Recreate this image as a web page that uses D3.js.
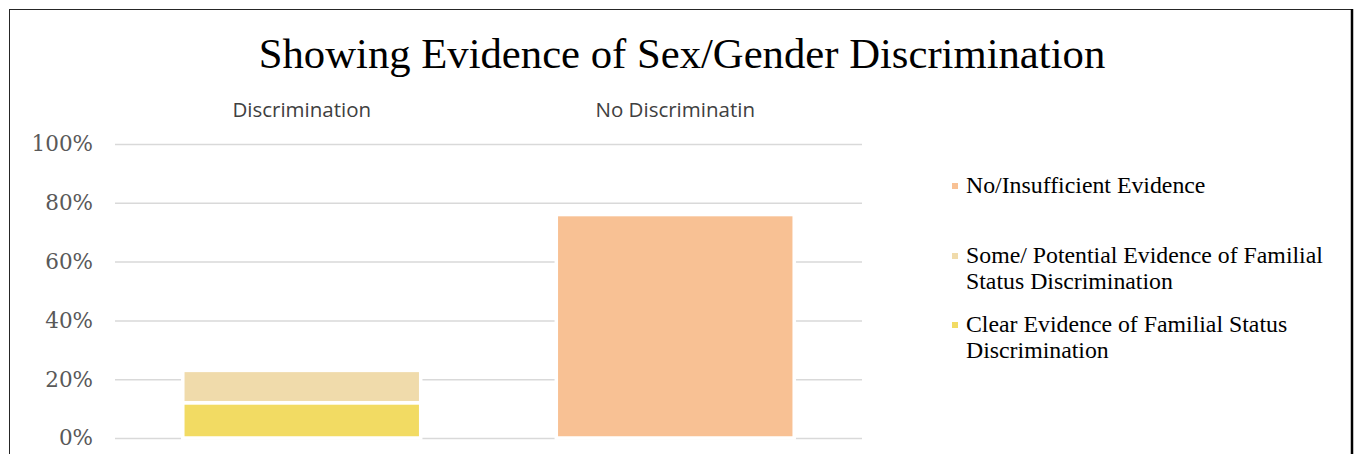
<!DOCTYPE html>
<html lang="en">

<head>
    <meta charset="UTF-8">
    <title>Showing Evidence of Sex/Gender Discrimination</title>
    <style>
        body { margin: 0; background: #fff; }
        .axis path { display: none; }
        .axis line { stroke: #d9d9d9; stroke-width: 1.5; }
        .axis text { font: 21.5px "DejaVu Serif", serif; fill: #595959; }
    </style>
</head>

<body>
    <div id="graph"></div>

    <script src="https://cdnjs.cloudflare.com/ajax/libs/d3/7.0.0/d3.min.js"></script>

    <script>
        // data
        var categories = ["Discrimination", "No Discriminatin"];
        var seriesNames = [
            "Clear Evidence of Familial Status Discrimination",
            "Some/ Potential Evidence of Familial Status Discrimination",
            "No/Insufficient Evidence"
        ];
        var clearEvidence = [0.12, 0];
        var someEvidence = [0.11, 0];
        var noEvidence = [0, 0.76];
        var yTicks = [0, 0.2, 0.4, 0.6, 0.8, 1.0];

        // legend is listed top-down in reverse stack order, with wrapped lines
        var legendLines = [
            ["No/Insufficient Evidence"],
            ["Some/ Potential Evidence of Familial", "Status Discrimination"],
            ["Clear Evidence of Familial Status", "Discrimination"]
        ];
        var colors = ["#f2db63", "#f0dbab", "#f8c194"];

        var W = 1354, H = 454;
        var margin = { top: 144, left: 115, right: W - 862, bottom: H - 438 };
        var width = W - margin.left - margin.right,
            height = H - margin.top - margin.bottom;

        var root = d3.select("#graph").append("svg")
            .attr("width", W)
            .attr("height", H);

        // chart frame
        root.append("rect")
            .attr("x", 9.5).attr("y", 9.5)
            .attr("width", 1342).attr("height", 500)
            .attr("fill", "none")
            .attr("stroke", "#262626")
            .attr("stroke-width", 1);
        root.append("line")
            .attr("x1", 1352).attr("x2", 1352)
            .attr("y1", 9).attr("y2", H)
            .attr("stroke", "#000").attr("stroke-width", 2.5);

        root.append("text")
            .attr("x", 682).attr("y", 68)
            .attr("text-anchor", "middle")
            .style("font", "42.7px 'Liberation Serif', 'Times New Roman', serif")
            .attr("fill", "#000")
            .text("Showing Evidence of Sex/Gender Discrimination");

        var svg = root.append("g")
            .attr("transform", "translate(" + margin.left + "," + margin.top + ")");

        var x = d3.scaleBand().domain(categories).range([0, width])
            .paddingInner(0.363).paddingOuter(0.1815);
        var y = d3.scaleLinear().domain([0, 1]).range([height, 0]);

        var yAxis = d3.axisLeft(y)
            .tickValues(yTicks)
            .tickSize(-width)
            .tickPadding(22)
            .tickFormat(d3.format(".0%"));

        svg.append("g")
            .attr("class", "axis")
            .call(yAxis);

        // category labels along the top
        svg.selectAll(".cat")
            .data(categories)
            .enter().append("text")
            .attr("class", "cat")
            .attr("x", d => x(d) + x.bandwidth() / 2)
            .attr("y", -27)
            .attr("text-anchor", "middle")
            .style("font", "20.5px 'Open Sans', sans-serif")
            .attr("fill", "#404040")
            .text(d => d);

        var table = categories.map((c, i) => ({
            cat: c,
            clear: clearEvidence[i],
            some: someEvidence[i],
            none: noEvidence[i]
        }));
        var stack = d3.stack().keys(["clear", "some", "none"])(table);

        svg.selectAll(".series")
            .data(stack)
            .enter().append("g")
            .attr("fill", (d, i) => colors[i])
            .selectAll("rect")
            .data(d => d.filter(p => p[1] - p[0] > 0))
            .enter().append("rect")
            .attr("x", d => x(d.data.cat))
            .attr("width", x.bandwidth())
            .attr("y", d => y(d[1]))
            .attr("height", d => y(d[0]) - y(d[1]))
            .attr("stroke", "#fff")
            .attr("stroke-width", 3.5);

        // legend
        var legendY = [186, 256, 325];
        var legend = root.append("g");
        legendLines.forEach(function (lines, i) {
            var g = legend.append("g").attr("transform", "translate(952," + legendY[i] + ")");
            g.append("rect")
                .attr("x", 0).attr("y", -3)
                .attr("width", 6).attr("height", 6)
                .attr("fill", colors[2 - i]);
            g.selectAll("text")
                .data(lines)
                .enter().append("text")
                .attr("x", 14)
                .attr("y", (d, j) => 7 + j * 26)
                .style("font", "23.8px 'Liberation Serif', 'Times New Roman', serif")
                .attr("fill", "#000")
                .text(d => d);
        });
    </script>
</body>

</html>
